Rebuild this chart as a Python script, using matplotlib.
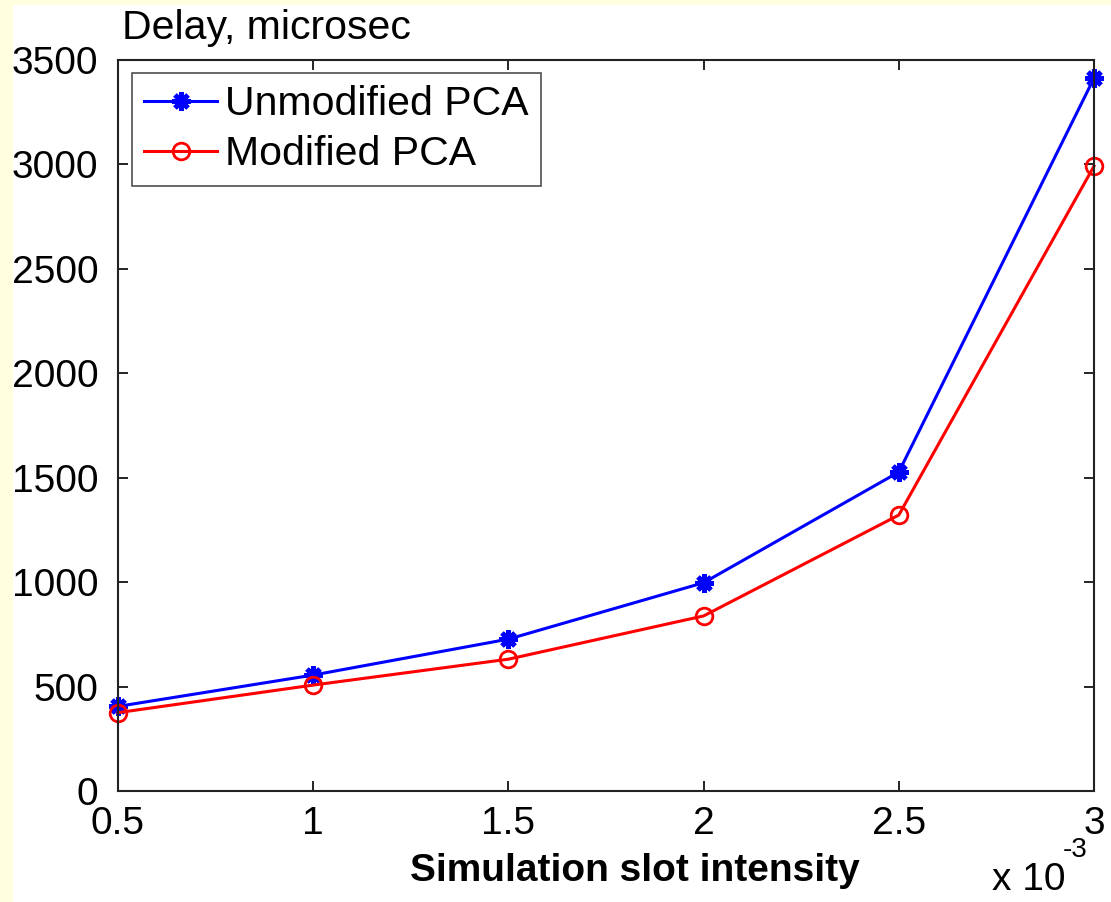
import matplotlib
matplotlib.use('Agg')
import matplotlib.pyplot as plt
from matplotlib.patches import Rectangle

plt.rcParams['font.family'] = ['Liberation Sans', 'DejaVu Sans']

intensity = [0.5, 1.0, 1.5, 2.0, 2.5, 3.0]
unmodified = [405, 555, 727, 997, 1527, 3413]
modified = [375, 507, 631, 838, 1321, 2992]
x_ticks = [0.5, 1, 1.5, 2, 2.5, 3]
x_labels = ['0.5', '1', '1.5', '2', '2.5', '3']
y_ticks = [0, 500, 1000, 1500, 2000, 2500, 3000, 3500]

fig = plt.figure(figsize=(11.11, 9.02), dpi=100, facecolor='white')
# yellowish frame strips at top and left
fig.patches.append(Rectangle((0, 0), 13 / 1111, 1, transform=fig.transFigure,
                             facecolor='#ffffe0', edgecolor='none', zorder=0))
fig.patches.append(Rectangle((0, 1 - 5 / 902), 1, 5 / 902, transform=fig.transFigure,
                             facecolor='#ffffe0', edgecolor='none', zorder=0))

ax = fig.add_axes([0.1062, 0.1231, 0.8785, 0.8104])
# matlab style asterisk marker (8 arms)
ax.plot(intensity, unmodified, '-', color='blue', lw=2.2, marker=(8, 2, 0),
        ms=13, mec='blue', mfc='blue', mew=3.5, label='Unmodified PCA', clip_on=False)
ax.plot(intensity, modified, '-', color='red', lw=2.2, marker='o',
        ms=12, mec='red', mfc='none', mew=2, label='Modified PCA', clip_on=False)

ax.set_xlim(0.5, 3)
ax.set_ylim(0, 3500)
ax.set_xticks(x_ticks)
ax.set_xticklabels(x_labels)
ax.set_yticks(y_ticks)
ax.tick_params(direction='in', length=7, width=1.2, top=True, right=True,
               labelsize=28)
ax.tick_params(axis='x', pad=11)
ax.tick_params(axis='y', pad=14)
for s in ax.spines.values():
    s.set_linewidth(1.5)
    s.set_color('#222222')

ax.set_xlabel('Simulation slot intensity', fontsize=28, fontweight='bold')
ax.xaxis.set_label_coords(0.53, -0.109)
ax.xaxis.label.set_va('center')

fig.text(122 / 1111, 1 - 28 / 902, 'Delay, microsec', fontsize=29.5, va='center', ha='left')
fig.text(992 / 1111, 1 - 880 / 902, 'x 10', fontsize=28, va='center', ha='left')
fig.text(1063 / 1111, 1 - 850 / 902, '-3', fontsize=20, va='center', ha='left')

leg = ax.legend(loc='upper left', bbox_to_anchor=(0.0143, 0.982), fontsize=29.5,
                frameon=True, fancybox=False, edgecolor='#222222', borderpad=0.3,
                handlelength=1.78, handletextpad=0.2, labelspacing=0.29,
                borderaxespad=0)
leg.get_frame().set_linewidth(1.2)

fig.savefig('out.png', dpi=100, facecolor=fig.get_facecolor())
